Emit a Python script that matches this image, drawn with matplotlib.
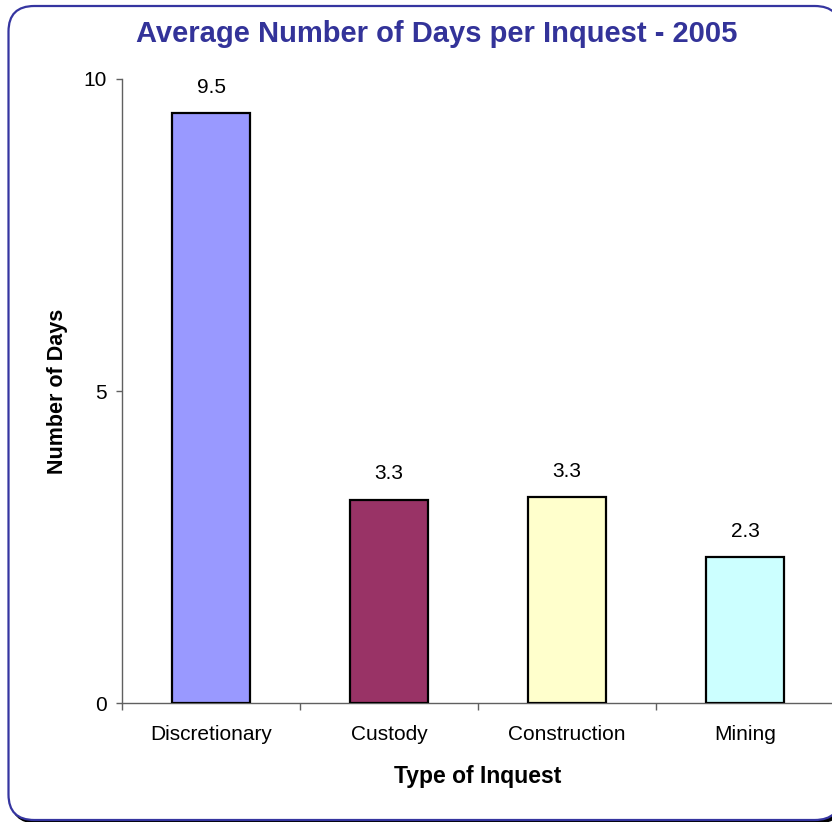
import matplotlib.pyplot as plt
from matplotlib.patches import FancyBboxPatch

categories = ["Discretionary", "Custody", "Construction", "Mining"]
days = [9.46, 3.26, 3.30, 2.34]
day_labels = ["9.5", "3.3", "3.3", "2.3"]
colors = ["#9999FF", "#993366", "#FFFFCC", "#CCFFFF"]

plt.rcParams['font.family'] = ['Liberation Sans', 'DejaVu Sans']

W, H = 832, 822
fig = plt.figure(figsize=(W / 100, H / 100), dpi=100)

# rounded frame with a small shadow, right side runs off the picture
shadow = FancyBboxPatch((11 / W, 1 - 823 / H), 832 / W, 815 / H,
                        boxstyle="round,pad=0,rounding_size=0.031",
                        transform=fig.transFigure, facecolor="black",
                        edgecolor="black", lw=1, zorder=0)
frame = FancyBboxPatch((8.5 / W, 1 - 820 / H), 832 / W, 814 / H,
                       boxstyle="round,pad=0,rounding_size=0.031",
                       transform=fig.transFigure, facecolor="white",
                       edgecolor="#3535A0", lw=1.6, zorder=1)
fig.patches.extend([shadow, frame])

ax = fig.add_axes([122 / W, 1 - 703 / H, 712 / W, 624 / H])
ax.set_facecolor("none")
ax.set_zorder(2)

x = range(len(categories))
ax.bar(x, days, width=0.44, color=colors, edgecolor="black", lw=1.6, zorder=3)
for xi, v, lab in zip(x, days, day_labels):
    ax.annotate(lab, (xi, v), xytext=(0, 14.5), textcoords="offset points",
                ha="center", va="baseline", fontsize=15)

ax.set_xlim(-0.5, len(categories) - 0.5)
ax.set_ylim(0, 10)
ax.set_yticks([0, 5, 10])
ax.tick_params(axis="y", length=4, width=1, color="#606060", pad=7, labelsize=15)

# ticks between categories, labels centred under bars
ax.set_xticks([i - 0.5 for i in range(len(categories) + 1)])
ax.set_xticklabels([])
ax.set_xticks(list(x), minor=True)
ax.set_xticklabels(categories, minor=True, fontsize=15)
ax.tick_params(axis="x", which="major", length=5, width=1, color="#606060")
ax.tick_params(axis="x", which="minor", length=0, pad=16)

for s in ["top", "right"]:
    ax.spines[s].set_visible(False)
for s in ["left", "bottom"]:
    ax.spines[s].set_color("#606060")
    ax.spines[s].set_linewidth(1)

ax.set_xlabel("Type of Inquest", fontsize=16.5, fontweight="bold", labelpad=15)
ax.set_ylabel("Number of Days", fontsize=15.5, fontweight="bold", labelpad=11)

fig.text(437 / W, 1 - 34 / H, "Average Number of Days per Inquest - 2005",
         ha="center", va="center", fontsize=21, fontweight="bold", color="#333399")

fig.savefig("out.png", dpi=100)
